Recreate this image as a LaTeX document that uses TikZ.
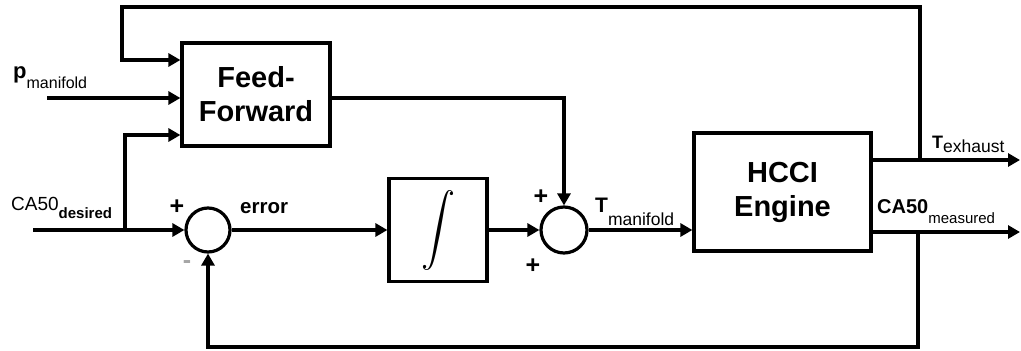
\documentclass[tikz,border=0pt]{standalone}
\usepackage{fontspec}
\setmainfont{Liberation Sans}
\usepackage{graphicx}
\usetikzlibrary{arrows.meta, positioning, calc}

\newcommand{\fsz}[1]{\fontsize{#1}{#1}\selectfont}

\begin{document}
\begin{tikzpicture}[x=1pt, y=-1pt, >={Triangle[length=12pt, width=13pt]},
  block/.style={draw, line width=3.2pt, inner sep=0pt, align=center},
  sumnode/.style={draw, circle, line width=3.2pt, inner sep=0pt},
  sig/.style={->, line width=3.8pt},
  lbl/.style={inner sep=0pt, anchor=base west},
  sign/.style={inner sep=0pt, font=\bfseries\fsz{25}}]
  \useasboundingbox (0,0) rectangle (1021,351);

  % Blocks
  \node[block, minimum width=148pt, minimum height=103pt,
    font=\bfseries\fontsize{29}{34}\selectfont] (ff) at (256,94.5) {Feed-\\Forward};
  \node[block, minimum width=98pt, minimum height=103pt] (integ) at (438,230)
    {\scalebox{3.4}[3.6]{$\displaystyle\int$}};
  \node[block, minimum width=177pt, minimum height=118pt,
    font=\bfseries\fontsize{29}{34}\selectfont] (engine) at (782.5,192) {HCCI\\Engine};

  % Summing junctions
  \node[sumnode, minimum size=44pt] (sum1) at (208,230) {};
  \node[sumnode, minimum size=46pt] (sum2) at (564,230) {};

  % Free ends and branch points
  \coordinate (pin) at (47,98);
  \coordinate (cain) at (33,230);
  \coordinate (cabr) at (125,230);
  \coordinate (ffin3) at (125,135);
  \coordinate (fbtop) at (122,7);
  \coordinate (ffin1) at (122,60);
  \coordinate (tap1) at (920,160);
  \coordinate (texh) at (1020,160);
  \coordinate (tap2) at (918,232);
  \coordinate (cmeas) at (1020,232);
  \coordinate (fbbot) at (918,347);

  % Inputs to the feed-forward block
  \draw[sig] (pin) -- (pin -| ff.west);
  \draw[sig] (cabr) -- (ffin3) -- (ffin3 -| ff.west);
  \draw[sig] (tap1) |- (fbtop) -- (ffin1) -- (ffin1 -| ff.west);

  % Main loop
  \draw[sig] (cain) -- (sum1.west);
  \draw[sig] (sum1.east) -- (integ.west);
  \draw[sig] (integ.east) -- (sum2.west);
  \draw[sig] (ff.east |- pin) -| (sum2.north);
  \draw[sig] (sum2.east) -- (sum2.east -| engine.west);

  % Outputs and feedback
  \draw[sig] (engine.east |- tap1) -- (texh);
  \draw[sig] (engine.east |- tap2) -- (cmeas);
  \draw[sig] (tap2) -- (fbbot) -| (sum1.south);

  % Labels
  \node[lbl] (plbl) at (13,78)
    {{\bfseries\fsz{22}p}\raisebox{-10pt}{\fsz{16}manifold}};
  \node[lbl] (calbl) at (11,210)
    {{\fsz{19}CA50}\raisebox{-8pt}{\bfseries\fsz{15}desired}};
  \node[lbl, font=\bfseries\fsz{20.5}] (errlbl) at (240,213) {error};
  \node[lbl] (tmlbl) at (595,212)
    {{\bfseries\fsz{21}T}\raisebox{-13pt}{\fsz{17.5}manifold}};
  \node[lbl] (telbl) at (932,148)
    {{\bfseries\fsz{18}T}\raisebox{-4pt}{\fsz{17.5}exhaust}};
  \node[lbl] (cmlbl) at (877,213)
    {{\bfseries\fsz{20}CA50}\raisebox{-10pt}{\fsz{15}measured}};

  % Signs at the junctions
  \node[sign] (s1p) at (177,207) {+};
  \node[sign, gray!70] (s1m) at (187,265) {-};
  \node[sign] (s2a) at (541,197) {+};
  \node[sign] (s2b) at (533,266) {+};
\end{tikzpicture}
\end{document}
